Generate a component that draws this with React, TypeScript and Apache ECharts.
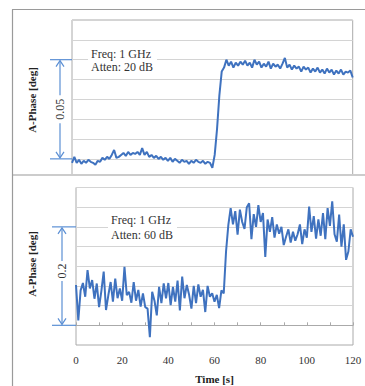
import React, { useEffect, useRef } from "react";
import * as echarts from "echarts";

// Time axis (seconds)
const TIME_S: number[] = Array.from({ length: 121 }, (_, i) => i);
const X_TICKS = [0, 20, 40, 60, 80, 100, 120];

// Top panel: Freq 1 GHz, Atten 20 dB (deg, relative)
const PHASE_20DB: number[] = [
  -0.002, 0.001, -0.002, -0.0005, -0.0025, -0.001, -0.002, -0.0005, -0.0015, -0.002, -0.003,
  -0.001, -0.0015, 0.0005, -0.0005, 0.001, 0.0, 0.002, 0.0045, 0.0005, 0.001,
  0.002, 0.003, 0.0015, 0.0035, 0.002, 0.003, 0.0025, 0.0035, 0.002, 0.0054,
  0.002, 0.0035, 0.001, 0.002, 0.0005, 0.0015, 0.0, 0.001, -0.0005, 0.0005,
  -0.001, 0.0005, -0.0015, 0.0, -0.001, -0.002, -0.0005, -0.0015, -0.001, -0.0025,
  -0.001, -0.002, -0.0005, -0.0015, -0.002, -0.001, -0.0025, -0.0015, -0.002, -0.0045,
  0.002, 0.015, 0.032, 0.044, 0.046, 0.05,
  0.047, 0.049, 0.046, 0.0485, 0.047, 0.049, 0.0475, 0.0495, 0.047, 0.0485, 0.046, 0.05, 0.0475, 0.049,
  0.046, 0.048, 0.0465, 0.049, 0.0455, 0.048, 0.0465, 0.0475, 0.0455, 0.048, 0.0509,
  0.046, 0.0475, 0.045, 0.047, 0.0455, 0.0465, 0.044, 0.0465, 0.045,
  0.046, 0.0435, 0.0455, 0.044, 0.046, 0.0435, 0.045, 0.043, 0.0455, 0.0435,
  0.045, 0.0425, 0.0445, 0.043, 0.045, 0.0425, 0.044, 0.0435, 0.0445, 0.041,
];

// Bottom panel: Freq 1 GHz, Atten 60 dB (deg, relative)
const PHASE_60DB: number[] = [
  0.082, 0.01, 0.071, 0.086, 0.058, 0.112, 0.075, 0.092, 0.054, 0.085,
  0.037, 0.07, 0.109, 0.031, 0.061, 0.088, 0.048, 0.095, 0.055, 0.075,
  0.05, 0.119, 0.061, 0.068, 0.046, 0.088, 0.05, 0.072, 0.038, 0.065,
  0.037, 0.034, -0.024, 0.068, 0.05, 0.02, 0.078, 0.045, 0.085, 0.055,
  0.086, 0.041, 0.078, 0.048, 0.091, 0.03, 0.099, 0.055, 0.082, 0.062,
  0.034, 0.08, 0.045, 0.083, 0.058, 0.072, 0.027, 0.08, 0.058, 0.065,
  0.048, 0.062, 0.035, 0.071, 0.065, 0.15, 0.204, 0.238, 0.205, 0.232,
  0.184, 0.235, 0.21, 0.196, 0.24, 0.248, 0.175, 0.226, 0.2, 0.244,
  0.21, 0.228, 0.139, 0.215, 0.19, 0.22, 0.178, 0.205, 0.186, 0.2,
  0.163, 0.18, 0.195, 0.168, 0.19, 0.172, 0.185, 0.205, 0.165, 0.195,
  0.178, 0.241, 0.19, 0.222, 0.176, 0.215, 0.182, 0.228, 0.175, 0.238,
  0.202, 0.252, 0.185, 0.17, 0.225, 0.16, 0.205, 0.133, 0.15, 0.195,
  0.18,
];

// Annotation spans (deg)
const SPAN_TOP = [0, 0.05];
const SPAN_BOTTOM = [0, 0.2];

const SERIF = "'Liberation Serif', 'Times New Roman', serif";
const LINE_COLOR = "#3f72bf";
const ARROW_COLOR = "#5b8fd4";
const FRAME_COLOR = "#9a9a9a";

export default function App() {
  const ref = useRef<HTMLDivElement>(null);

  useEffect(() => {
    document.body.style.margin = "0";
    const chart = echarts.init(ref.current!, null, { renderer: "svg" });
    const splitLine = { show: true, lineStyle: { color: "#d4d4d4", width: 1 } };
    chart.setOption({
      animation: false,
      backgroundColor: "#fff",
      grid: [
        { left: 72, top: 20, width: 280.7, height: 158.7, show: true, borderColor: "#aaa", borderWidth: 1 },
        { left: 76, top: 187.5, width: 277, height: 157.5, show: true, borderColor: "#aaa", borderWidth: 1 },
      ],
      xAxis: [
        { type: "value", gridIndex: 0, min: 0, max: 120, interval: 10, axisLine: { show: false }, axisTick: { show: false }, axisLabel: { show: false }, splitLine: { show: false } },
        {
          type: "value", gridIndex: 1, min: 0, max: 120, interval: 10,
          axisLine: { show: true, lineStyle: { color: "#aaa" } },
          axisTick: { show: true, inside: true, length: 3, lineStyle: { color: "#aaa" } },
          axisLabel: { fontFamily: SERIF, fontSize: 11, color: "#333", margin: 9, formatter: (v: number) => (X_TICKS.includes(v) ? String(v) : "") },
          splitLine: { show: false },
          name: "Time [s]", nameLocation: "middle", nameGap: 28,
          nameTextStyle: { fontFamily: SERIF, fontSize: 11, fontWeight: "bold", color: "#222" },
        },
      ],
      yAxis: [
        { type: "value", gridIndex: 0, min: -0.01, max: 0.07, interval: 0.01, axisLine: { show: false }, axisTick: { show: false }, axisLabel: { show: false }, splitLine },
        { type: "value", gridIndex: 1, min: -0.04, max: 0.28, interval: 0.04, axisLine: { show: false }, axisTick: { show: false }, axisLabel: { show: false }, splitLine },
      ],
      series: [
        { type: "line", xAxisIndex: 0, yAxisIndex: 0, showSymbol: false, data: TIME_S.map((t, i) => [t, PHASE_20DB[i]]), lineStyle: { color: LINE_COLOR, width: 2 } },
        { type: "line", xAxisIndex: 1, yAxisIndex: 1, showSymbol: false, data: TIME_S.map((t, i) => [t, PHASE_60DB[i]]), lineStyle: { color: LINE_COLOR, width: 2 } },
      ],
    });

    const arrow = (axisIdx: number, span: number[], x: number, x0: number, x1: number, label: string, gap: number, shift: number) => {
      const yLo = chart.convertToPixel({ yAxisIndex: axisIdx }, span[0]) as number;
      const yHi = chart.convertToPixel({ yAxisIndex: axisIdx }, span[1]) as number;
      const mid = (yLo + yHi) / 2 + shift;
      const ls = { stroke: ARROW_COLOR, lineWidth: 1.2 };
      return [
        { type: "line", z: 50, shape: { x1: x0, y1: yHi, x2: x1, y2: yHi }, style: ls },
        { type: "line", z: 50, shape: { x1: x0, y1: yLo, x2: x1, y2: yLo }, style: ls },
        { type: "line", z: 50, shape: { x1: x, y1: yHi + 1, x2: x, y2: mid - gap }, style: ls },
        { type: "line", z: 50, shape: { x1: x, y1: mid + gap, x2: x, y2: yLo - 1 }, style: ls },
        { type: "polyline", z: 50, shape: { points: [[x - 4, yHi + 7], [x, yHi + 1], [x + 4, yHi + 7]] }, style: { ...ls, fill: "none" } },
        { type: "polyline", z: 50, shape: { points: [[x - 4, yLo - 7], [x, yLo - 1], [x + 4, yLo - 7]] }, style: { ...ls, fill: "none" } },
        {
          type: "text", z: 50, x: x, y: mid, rotation: Math.PI / 2,
          style: { text: label, fontFamily: SERIF, fontSize: 12, fill: "#333", align: "center", verticalAlign: "middle" },
        },
      ];
    };

    const yTitle = (y: number) => ({
      type: "text", z: 50, x: 32, y, rotation: Math.PI / 2,
      style: { text: "A-Phase [deg]", fontFamily: SERIF, fontSize: 11, fontWeight: "bold", fill: "#222", align: "center", verticalAlign: "middle" },
    });

    const note = (x: number, y: number, text: string, lh: number) => ({
      type: "text", z: 50, x, y,
      style: { text, fontFamily: SERIF, fontSize: 12, lineHeight: lh, fill: "#333", backgroundColor: "#fff", padding: [1, 4, 1, 3] },
    });

    chart.setOption({
      graphic: [
        { type: "rect", z: 40, shape: { x: 13, y: 174, width: 352, height: 13 }, style: { fill: "#fff" } },
        { type: "line", z: 60, shape: { x1: 12.5, y1: 9.5, x2: 12.5, y2: 386 }, style: { stroke: FRAME_COLOR, lineWidth: 1.2 } },
        { type: "line", z: 60, shape: { x1: 12, y1: 9.5, x2: 365, y2: 9.5 }, style: { stroke: FRAME_COLOR, lineWidth: 1.2 } },
        { type: "line", z: 60, shape: { x1: 12, y1: 175, x2: 365, y2: 175 }, style: { stroke: FRAME_COLOR, lineWidth: 1.2 } },
        ...arrow(0, SPAN_TOP, 60, 50, 72, "0.05", 14, 0),
        ...arrow(1, SPAN_BOTTOM, 62, 52, 76, "0.2", 10, -5),
        yTitle(100),
        yTitle(264),
        note(88, 46, "Freq: 1 GHz\nAtten: 20 dB", 13),
        note(108, 212, "Freq: 1 GHz\nAtten: 60 dB", 14.5),
      ],
    });

    return () => chart.dispose();
  }, []);

  return <div ref={ref} style={{ position: "fixed", left: 0, top: 0, width: 365, height: 386 }} />;
}
